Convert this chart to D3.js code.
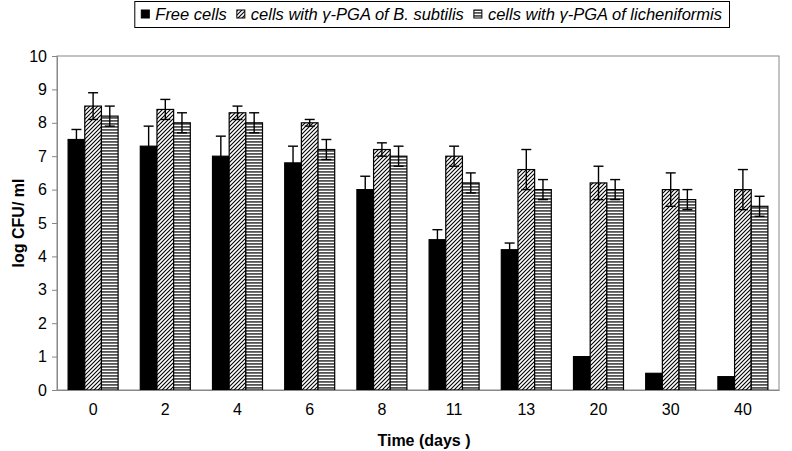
<!DOCTYPE html>
<html><head><meta charset="utf-8">
<script src="https://cdn.jsdelivr.net/npm/d3@7"></script>
<style>body{margin:0;background:#fff}svg{display:block}text{font-family:Arial,"Liberation Sans",sans-serif}</style>
</head><body><svg id="c" width="792" height="451"></svg>
<script>
const categories = ["0","2","4","6","8","11","13","20","30","40"];
const seriesNames = ["Free cells","cells with \u03b3-PGA of B. subtilis","cells with \u03b3-PGA of licheniformis"];
const freeCells = [7.5,7.3,7.0,6.8,6.0,4.5,4.2,1.0,0.5,0.4];
const freeErr   = [0.3,0.6,0.6,0.5,0.4,0.3,0.2,0,0,0];
const subtilis  = [8.5,8.4,8.3,8.0,7.2,7.0,6.6,6.2,6.0,6.0];
const subErr    = [0.4,0.3,0.2,0.1,0.2,0.3,0.6,0.5,0.5,0.6];
const lichen    = [8.2,8.0,8.0,7.2,7.0,6.2,6.0,6.0,5.7,5.5];
const lichErr   = [0.3,0.3,0.3,0.3,0.3,0.3,0.3,0.3,0.3,0.3];
const yTicks = [0,1,2,3,4,5,6,7,8,9,10];

const svg = d3.select("#c");
const L=57,R=779,T=56,B=390;
const FONT = "Arial, 'Liberation Sans', sans-serif";
const defs = svg.append("defs");
const hatch = defs.append("pattern").attr("id","hatch").attr("patternUnits","userSpaceOnUse").attr("width",4).attr("height",4);
hatch.append("rect").attr("width",4).attr("height",4).attr("fill","#fff");
hatch.append("path").attr("d","M-1,1 l2,-2 M0,4 l4,-4 M3,5 l2,-2").attr("stroke","#000").attr("stroke-width",1.1);
const stripe = defs.append("pattern").attr("id","stripe").attr("patternUnits","userSpaceOnUse").attr("width",4).attr("height",3);
stripe.append("rect").attr("width",4).attr("height",3).attr("fill","#fff");
stripe.append("rect").attr("width",4).attr("height",1.8).attr("fill","#555");
const fills = ["#000","url(#hatch)","url(#stripe)"];

const x = d3.scaleBand().domain(categories).range([L,R]);
const xs = d3.scaleBand().domain([0,1,2]).range([0,50]);
const y = d3.scaleLinear().domain([0,10]).range([B,T]);

svg.append("rect").attr("x",L).attr("y",T).attr("width",R-L).attr("height",B-T).attr("fill","none").attr("stroke","#888").attr("stroke-width",1);

const series = [[freeCells,freeErr],[subtilis,subErr],[lichen,lichErr]];
series.forEach(([vals,errs],si)=>{
  svg.append("g").selectAll("rect").data(vals).join("rect")
    .attr("x",(d,i)=>x(categories[i])+x.bandwidth()/2-25+xs(si))
    .attr("width",xs.bandwidth())
    .attr("y",d=>y(d)).attr("height",d=>B-y(d))
    .attr("fill",fills[si]).attr("stroke","#000").attr("stroke-width",1.2);
});
series.forEach(([vals,errs],si)=>{
  const g = svg.append("g").attr("stroke","#000").attr("stroke-width",1.4);
  vals.forEach((v,i)=>{
    if(!errs[i]) return;
    const cx = x(categories[i])+x.bandwidth()/2-25+xs(si)+xs.bandwidth()/2;
    g.append("line").attr("x1",cx).attr("x2",cx).attr("y1",y(v-errs[i])).attr("y2",y(v+errs[i]));
    g.append("line").attr("x1",cx-5).attr("x2",cx+5).attr("y1",y(v+errs[i])).attr("y2",y(v+errs[i]));
    g.append("line").attr("x1",cx-5).attr("x2",cx+5).attr("y1",y(v-errs[i])).attr("y2",y(v-errs[i]));
  });
});

const ya = svg.append("g").attr("transform",`translate(${L},0)`).call(d3.axisLeft(y).tickValues(yTicks).tickSize(5).tickPadding(5));
ya.select(".domain").attr("stroke","#888");
ya.selectAll(".tick line").attr("stroke","#888");
ya.selectAll("text").attr("font-size",16).attr("fill","#000").attr("font-family",FONT);
const xa = svg.append("g").attr("transform",`translate(0,${B})`).call(d3.axisBottom(x).tickSize(0).tickPadding(14));
xa.select(".domain").attr("stroke","#888");
xa.selectAll("text").attr("font-size",16).attr("fill","#000").attr("font-family",FONT);

svg.append("text").attr("x",424).attr("y",446).attr("text-anchor","middle").attr("font-weight","bold").attr("font-size",16).text("Time (days )");
svg.append("text").attr("transform","translate(24,223) rotate(-90)").attr("text-anchor","middle").attr("font-weight","bold").attr("font-size",16).text("log CFU/ ml");

const lg = svg.append("g");
const border = lg.append("rect").attr("y",1.5).attr("height",26).attr("fill","#fff").attr("stroke","#000").attr("stroke-width",1);
const items = seriesNames.map((n,i)=>{
  const gi = lg.append("g");
  const box = gi.append("rect").attr("y",10).attr("width",8).attr("height",8).attr("fill",fills[i]).attr("stroke","#000").attr("stroke-width",1);
  const t = gi.append("text").attr("y",20).attr("font-size",16.5).attr("font-style","italic").text(n);
  return {box,t,w:t.node().getComputedTextLength()};
});
let right = 722;
for(let i=items.length-1;i>=0;i--){
  const it = items[i];
  const tx = right - it.w;
  it.t.attr("x",tx);
  it.box.attr("x",tx-14);
  right = tx-14-10;
}
const legLeft = right + 10 - 7;
border.attr("x",legLeft+0.5).attr("width",729-legLeft);
</script></body></html>
